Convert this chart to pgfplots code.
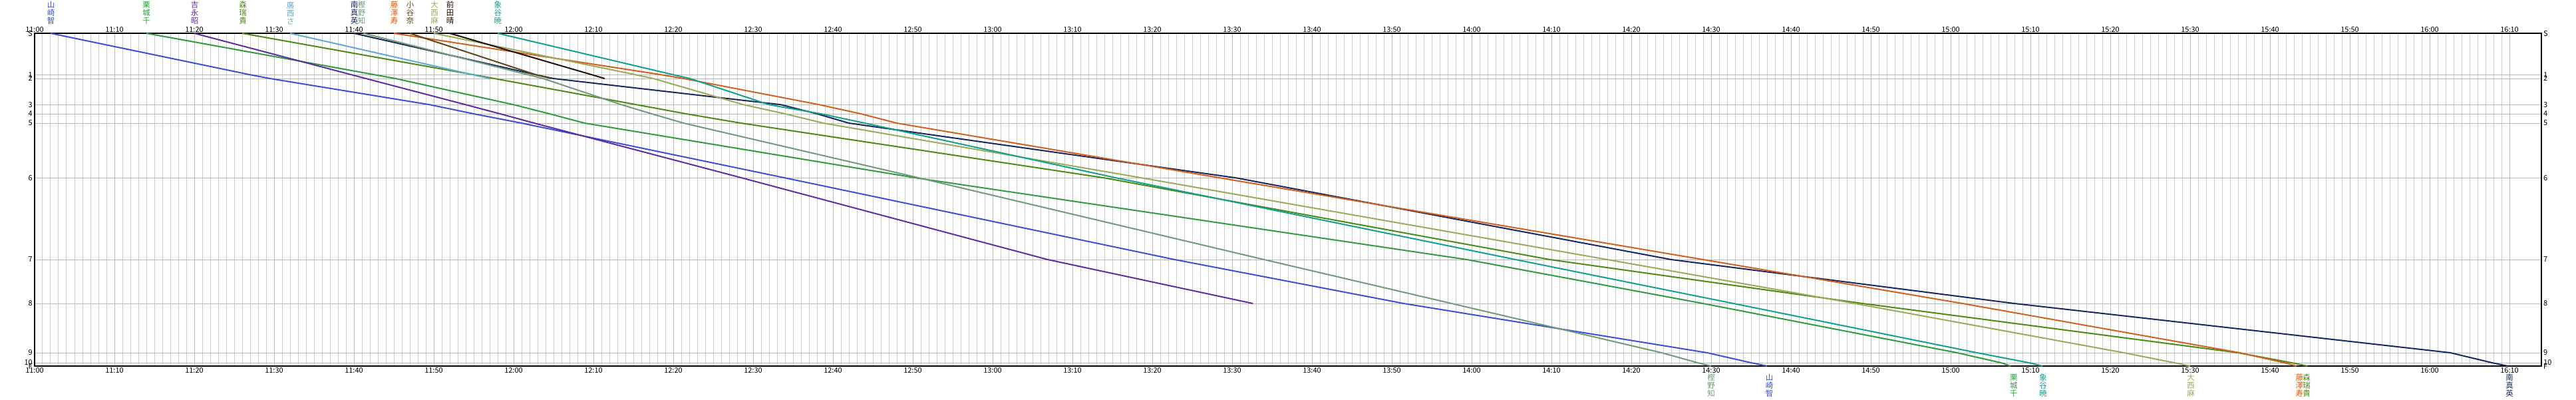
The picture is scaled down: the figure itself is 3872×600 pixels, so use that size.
\documentclass[border=0pt]{standalone}
\usepackage{pgfplots}
\pgfplotsset{compat=1.18}
\usepackage{fontspec}
\setmainfont{Noto Sans CJK JP}

\definecolor{cYama}{HTML}{3B4FD6}
\definecolor{cKuri}{HTML}{2E9B3F}
\definecolor{cYoshi}{HTML}{5E2CA0}
\definecolor{cMori}{HTML}{4B8B12}
\definecolor{cHiro}{HTML}{5AAAD2}
\definecolor{cMina}{HTML}{17275E}
\definecolor{cKashi}{HTML}{6E9A7A}
\definecolor{cFuji}{HTML}{D25F1C}
\definecolor{cKotani}{HTML}{5C4616}
\definecolor{cOnishi}{HTML}{9AAA58}
\definecolor{cMaeda}{HTML}{1E0E06}
\definecolor{cZou}{HTML}{10A08E}

\newcommand{\namefont}{\fontsize{11.5}{12}\selectfont}
\newcommand{\tickfont}{\fontsize{11}{12}\selectfont}

% x = minutes after 11:00, y = distance in px from start line (S=0, F=500)
\pgfplotsset{
  dia/.style={
    at={(0,0)}, anchor=south west,
    scale only axis, width=3768pt, height=500pt,
    xmin=0, xmax=314, ymin=0, ymax=500, y dir=reverse,
    major tick length=0pt, minor tick length=0pt,
    xtick={0,10,...,310},
    xticklabels={11:00,11:10,11:20,11:30,11:40,11:50,
      12:00,12:10,12:20,12:30,12:40,12:50,
      13:00,13:10,13:20,13:30,13:40,13:50,
      14:00,14:10,14:20,14:30,14:40,14:50,
      15:00,15:10,15:20,15:30,15:40,15:50,
      16:00,16:10},
    ytick={0,62.3,68,107.3,121,135,217.3,340,406,480,495,500},
    yticklabels={S,1,2,3,4,5,6,7,8,9,10,F},
    tick label style={font=\tickfont, inner sep=0pt},
    clip=false,
  },
  run/.style={line width=2pt, no markers, sharp plot},
}

\begin{document}
\begin{tikzpicture}[x=1pt,y=1pt]
\path[use as bounding box] (-52,-50) rectangle (3820,550);

% grid, bottom and left labels, the runs
\begin{axis}[dia,
  axis line style={line width=1.2pt},
  minor x tick num=9,
  xmajorgrids, xminorgrids, ymajorgrids,
  major grid style={color=black!28, line width=1pt},
  minor grid style={color=black!20, line width=1pt},
  xticklabel style={yshift=-2pt},
  yticklabel style={xshift=-3pt},
]
% 山崎智
\addplot[run, cYama] coordinates {(2,0)(27,62.3)(29.5,68)(49.5,107.3)(55,121)(61,135)(94,217.3)(142.8,340)(171.5,406)(209.5,480)(215,495)(217,500)};
% 栗城千
\addplot[run, cKuri] coordinates {(14,0)(42.6,62.3)(45.2,68)(60,107.3)(64.5,121)(68.9,135)(110.4,217.3)(179.4,340)(209,406)(240.8,480)(246.3,495)(247.5,500)};
% 吉永昭
\addplot[run, cYoshi] coordinates {(20,0)(39.7,62.3)(41.5,68)(54,107.3)(58.3,121)(62.6,135)(88.6,217.3)(126.9,340)(152.6,406)};
% 森瑞貴
\addplot[run, cMori] coordinates {(26,0)(55,62.3)(57.6,68)(75.4,107.3)(81.6,121)(88.5,135)(134,217.3)(189.8,340)(229,406)(276,480)(282.7,495)(284.7,500)};
% 廣西さ
\addplot[run, cHiro] coordinates {(32,0)(54.9,62.3)(57,68)};
% 南真英
\addplot[run, cMina] coordinates {(40,0)(62.8,62.3)(65,68)(93.5,107.3)(98,121)(102,135)(150.5,217.3)(205,340)(248,406)(302.6,480)(307.8,495)(309.8,500)};
% 樫野知
\addplot[run, cKashi] coordinates {(41.2,0)(61.8,62.3)(63.7,68)(73.5,107.3)(77.3,121)(81.3,135)(110.8,217.3)(154,340)(177.5,406)(203.8,480)(208.3,495)(210,500)};
% 藤澤寿
\addplot[run, cFuji] coordinates {(45,0)(78.5,62.3)(81.3,68)(98.3,107.3)(103.5,121)(108,135)(148.5,217.3)(209,340)(241.5,406)(276.2,480)(281.8,495)(283.3,500)};
% 小谷奈
\addplot[run, cKotani] coordinates {(47,0)(62.8,62.3)(64.7,68)};
% 大西麻
\addplot[run, cOnishi] coordinates {(50,0)(75.3,62.3)(77.5,68)(88.8,107.3)(94,121)(98.8,135)(138.7,217.3)(197,340)(228,406)(261.7,480)(268,495)(270,500)};
% 前田晴
\addplot[run, cMaeda] coordinates {(52,0)(69.8,62.3)(71.4,68)};
% 象谷暁
\addplot[run, cZou] coordinates {(58,0)(80,62.3)(82.1,68)(92,107.3)(98.5,121)(104,135)(135.5,217.3)(185.5,340)(212.8,406)(243.3,480)(249.8,495)(251.5,500)};

% start names (top)
\tikzset{nm/.style={align=center, font=\namefont, inner sep=0pt}}
\node[nm, anchor=south, text=cYama]    at (axis cs:2.06,0)  [yshift=13pt] {山\\崎\\智};
\node[nm, anchor=south, text=cKuri]    at (axis cs:14,0)    [yshift=13pt] {栗\\城\\千};
\node[nm, anchor=south, text=cYoshi]   at (axis cs:20.06,0) [yshift=13pt] {吉\\永\\昭};
\node[nm, anchor=south, text=cMori]    at (axis cs:26.1,0)  [yshift=13pt] {森\\瑞\\貴};
\node[nm, anchor=south, text=cHiro]    at (axis cs:32.06,0) [yshift=13pt] {廣\\西\\さ};
\node[nm, anchor=south, text=cMina]    at (axis cs:40.06,0) [yshift=13pt] {南\\真\\英};
\node[nm, anchor=south, text=cKashi]   at (axis cs:40.97,0) [yshift=13pt] {樫\\野\\知};
\node[nm, anchor=south, text=cFuji]    at (axis cs:45.06,0) [yshift=13pt] {藤\\澤\\寿};
\node[nm, anchor=south, text=cKotani]  at (axis cs:47.06,0) [yshift=13pt] {小\\谷\\奈};
\node[nm, anchor=south, text=cOnishi]  at (axis cs:50.1,0)  [yshift=13pt] {大\\西\\麻};
\node[nm, anchor=south, text=cMaeda]   at (axis cs:52.06,0) [yshift=13pt] {前\\田\\晴};
\node[nm, anchor=south, text=cZou]     at (axis cs:58.03,0) [yshift=13pt] {象\\谷\\暁};
% finish names (bottom)
\node[nm, anchor=north, text=cKashi]   at (axis cs:210,500)   [yshift=-12pt] {樫\\野\\知};
\node[nm, anchor=north, text=cYama]    at (axis cs:217.3,500) [yshift=-12pt] {山\\崎\\智};
\node[nm, anchor=north, text=cKuri]    at (axis cs:247.9,500) [yshift=-12pt] {栗\\城\\千};
\node[nm, anchor=north, text=cZou]     at (axis cs:251.6,500) [yshift=-12pt] {象\\谷\\暁};
\node[nm, anchor=north, text=cOnishi]  at (axis cs:270.1,500) [yshift=-12pt] {大\\西\\麻};
\node[nm, anchor=north, text=cFuji]    at (axis cs:283.7,500) [yshift=-12pt] {藤\\澤\\寿};
\node[nm, anchor=north, text=cMori]    at (axis cs:284.6,500) [yshift=-12pt] {森\\瑞\\貴};
\node[nm, anchor=north, text=cMina]    at (axis cs:310,500)   [yshift=-12pt] {南\\真\\英};
\end{axis}

% top and right labels
\begin{axis}[dia,
  axis line style={draw=none},
  xticklabel pos=upper, yticklabel pos=right,
  xticklabel style={yshift=1.5pt},
  yticklabel style={xshift=3pt},
]
\end{axis}
\end{tikzpicture}
\end{document}
